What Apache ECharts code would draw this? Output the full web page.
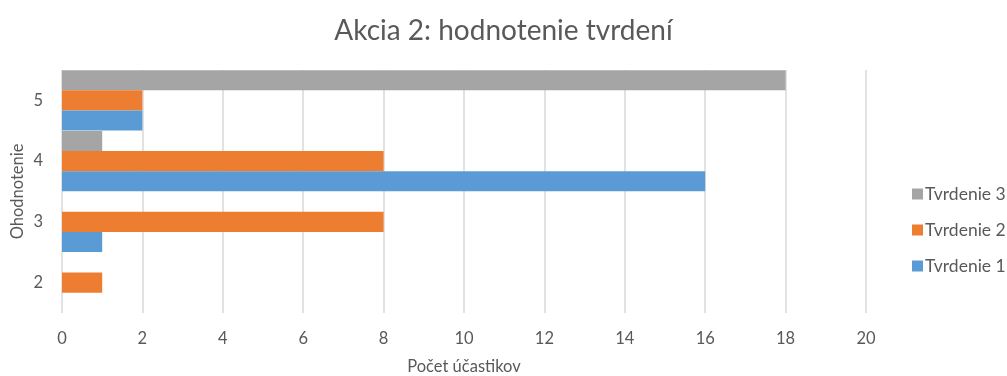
<!DOCTYPE html>
<html>
<head>
<meta charset="utf-8">
<script src="https://cdn.jsdelivr.net/npm/echarts@6/dist/echarts.min.js"></script>
<style>
  html, body { margin: 0; padding: 0; background: #fff; }
  #chart { width: 1007px; height: 376px; }
</style>
</head>
<body>
<div id="chart"></div>
<script>
// Ratings (category axis, bottom to top)
const categories = ['2', '3', '4', '5'];
// Number of participants per rating for each statement
const tvrdenie1 = [0, 1, 16, 2];
const tvrdenie2 = [1, 8, 8, 2];
const tvrdenie3 = [0, 0, 1, 18];
const xTicks = { min: 0, max: 20, interval: 2 };

const font = 'Lato, "Open Sans", sans-serif';
const textColor = '#595959';

const chart = echarts.init(document.getElementById('chart'));
chart.setOption({
  animation: false,
  textStyle: { fontFamily: font },
  title: {
    text: 'Akcia 2: hodnotenie tvrdení',
    left: 'center',
    top: 12,
    textStyle: { fontFamily: font, fontSize: 28, fontWeight: 'normal', color: textColor }
  },
  legend: {
    orient: 'vertical',
    left: 907,
    top: 180,
    itemWidth: 11,
    itemHeight: 11,
    itemGap: 18,
    icon: 'rect',
    data: ['Tvrdenie 3', 'Tvrdenie 2', 'Tvrdenie 1'],
    textStyle: { fontFamily: font, fontSize: 17.5, color: textColor, padding: [0, 0, 0, -3] }
  },
  grid: { left: 62, right: 141, top: 70, bottom: 63, containLabel: false, outerBoundsMode: 'none' },
  xAxis: {
    type: 'value',
    min: xTicks.min,
    max: xTicks.max,
    interval: xTicks.interval,
    name: 'Počet účastikov',
    nameLocation: 'middle',
    nameGap: 45,
    nameTextStyle: { fontFamily: font, fontSize: 16.5, color: textColor },
    axisLine: { show: false },
    axisTick: { show: false },
    axisLabel: { fontFamily: font, fontSize: 16.5, color: textColor, margin: 17 },
    splitLine: { show: true, lineStyle: { color: '#d9d9d9', width: 1.5 } }
  },
  yAxis: {
    type: 'category',
    data: categories,
    name: 'Ohodnotenie',
    nameLocation: 'middle',
    nameGap: 36,
    nameMoveOverlap: false,
    nameTextStyle: { fontFamily: font, fontSize: 16.5, color: textColor },
    axisLine: { show: false },
    axisTick: { show: false },
    axisLabel: { fontFamily: font, fontSize: 16.5, color: textColor, margin: 19 },
    splitLine: { show: false }
  },
  // Listed top-down inside each rating band: statement 3, 2, 1
  series: [
    { name: 'Tvrdenie 3', type: 'bar', data: tvrdenie3, itemStyle: { color: '#A5A5A5' },
      barGap: '0%', barCategoryGap: '1%' },
    { name: 'Tvrdenie 2', type: 'bar', data: tvrdenie2, itemStyle: { color: '#ED7D31' },
      barGap: '0%', barCategoryGap: '1%' },
    { name: 'Tvrdenie 1', type: 'bar', data: tvrdenie1, itemStyle: { color: '#5B9BD5' },
      barGap: '0%', barCategoryGap: '1%' }
  ]
});
</script>
</body>
</html>
